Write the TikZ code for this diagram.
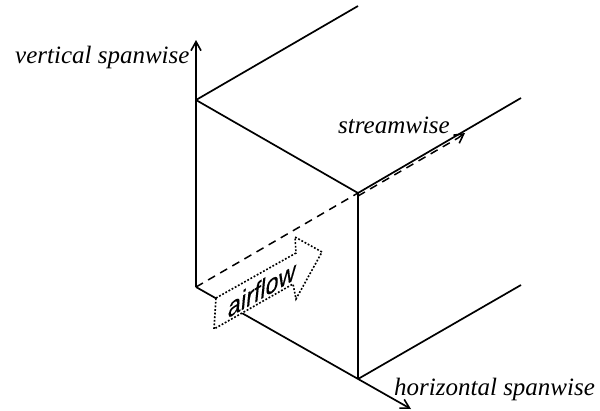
\documentclass[tikz,border=0pt]{standalone}
\usepackage{fontspec}
\setmainfont{Liberation Serif}
\newfontfamily\arialfont[FakeBold=0.3]{Liberation Sans}
\usetikzlibrary{arrows.meta}
\tikzset{
  edge/.style={line width=1.7pt,black},
  dashedge/.style={line width=1.5pt,black,dash pattern=on 8pt off 6pt},
  tipped/.style={-{Straight Barb[length=9pt,width=10pt,line width=1.6pt]}},
  lab/.style={font=\fontsize{25}{28}\selectfont\itshape,inner sep=0pt,anchor=base west},
  flowbox/.style={draw=black,fill=white,line width=1.6pt,dash pattern=on 1.8pt off 1.8pt},
}
\begin{document}
\begin{tikzpicture}[x=1pt,y=-1pt]
\useasboundingbox (0,0) rectangle (600,410);
\coordinate (topback) at (196,100);
\coordinate (botback) at (196,287);
\coordinate (topfront) at (358,193);
\coordinate (botfront) at (358,379);
\coordinate (farA) at (358,6);
\coordinate (farB) at (521,98);
\coordinate (farC) at (521,285);
\coordinate (vtip) at (196,40);
\coordinate (htip) at (411,409);
\coordinate (dstart) at (358,196);
\coordinate (dend) at (458,138);
\coordinate (stip) at (465,133);
\draw[edge] (topback) -- (topfront);
\draw[edge] (topback) -- (farA);
\draw[edge] (topfront) -- (farB);
\draw[edge] (botfront) -- (farC);
\draw[edge] (topfront) -- (botfront);
\draw[edge,tipped] (botback) -- (vtip);
\draw[edge,tipped] (botback) -- (htip);
\draw[dashedge] (botback) -- (topfront);
\draw[dashedge] (dstart) -- (dend);
\draw[line width=1.5pt,tipped] (dend) -- (stip);
\draw[flowbox] (216,298) -- (296,253) -- (295,237) -- (322,252) -- (296,299) -- (293,284) -- (214,329) -- cycle;
\node[cm={.866,.5,.1,1.04,(0,0)},inner sep=0pt,font=\arialfont\fontsize{27}{30}\selectfont] (air) at (262,289) {airflow};
\node[lab] (vs) at (15,63) {vertical spanwise};
\node[lab] (st) at (338,133) {streamwise};
\node[lab] (hs) at (394,395) {horizontal spanwise};
\end{tikzpicture}
\end{document}
